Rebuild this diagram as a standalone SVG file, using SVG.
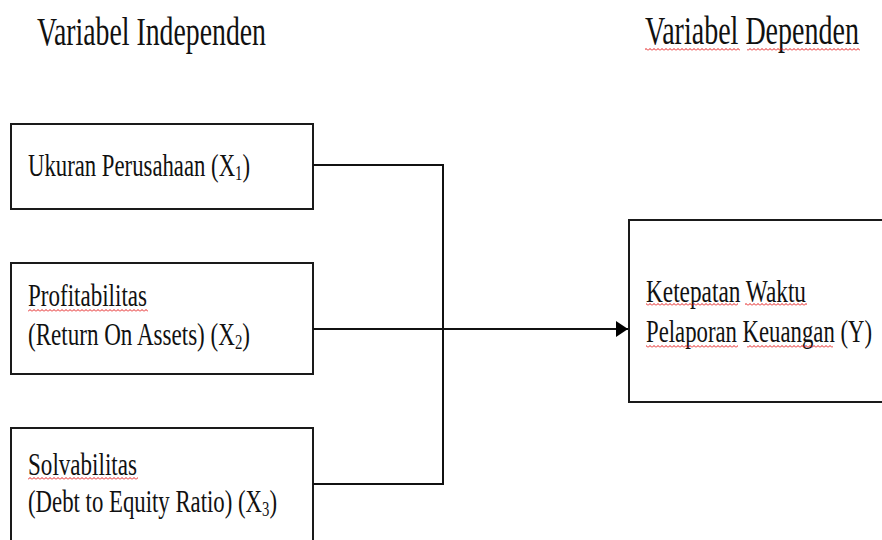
<svg xmlns="http://www.w3.org/2000/svg" width="882" height="540" viewBox="0 0 882 540">
<style>
.box{fill:#fff;stroke:#1a1a1a;stroke-width:2}
.t{font-family:"Liberation Serif","Times New Roman",serif;fill:#111}
.h{font-size:40px}
.b{font-size:31px}
.sub{font-size:20px}
.conn{fill:none;stroke:#111;stroke-width:2}
.sq{fill:url(#wave)}
</style>
<defs>
<pattern id="wave" width="4" height="3" patternUnits="userSpaceOnUse">
<path d="M0 2.5 L2 0.5 L4 2.5" fill="none" stroke="#e00000" stroke-width="0.9"/>
</pattern>
<marker id="arr" markerWidth="12" markerHeight="16" refX="12" refY="8" orient="auto" markerUnits="userSpaceOnUse">
<path d="M0 0 L12 8 L0 16 Z" fill="#000"/>
</marker>
</defs>
<rect width="882" height="540" fill="#fff"/>

<g id="title-independen">
<text class="t h" x="37" y="45" textLength="229" lengthAdjust="spacingAndGlyphs">Variabel Independen</text>
</g>
<g id="title-dependen">
<text class="t h" x="645" y="44" textLength="214" lengthAdjust="spacingAndGlyphs">Variabel Dependen</text>
<rect class="sq" x="645" y="48" width="95" height="3"/>
<rect class="sq" x="747" y="48" width="113" height="3"/>
</g>

<g id="x1">
<rect class="box" x="11" y="124" width="302" height="85"/>
<text class="t b" x="28" y="176" textLength="222" lengthAdjust="spacingAndGlyphs">Ukuran Perusahaan (X<tspan class="sub" dy="4">1</tspan><tspan dy="-4">)</tspan></text>
</g>

<g id="x2">
<rect class="box" x="11" y="263" width="302" height="111"/>
<text class="t b" x="28" y="306" textLength="119" lengthAdjust="spacingAndGlyphs">Profitabilitas</text>
<rect class="sq" x="28" y="309" width="120" height="3"/>
<text class="t b" x="28" y="345" textLength="222" lengthAdjust="spacingAndGlyphs">(Return On Assets) (X<tspan class="sub" dy="4">2</tspan><tspan dy="-4">)</tspan></text>
</g>

<g id="x3">
<rect class="box" x="11" y="428" width="302" height="130"/>
<text class="t b" x="28" y="475" textLength="109" lengthAdjust="spacingAndGlyphs">Solvabilitas</text>
<rect class="sq" x="28" y="477" width="110" height="3"/>
<text class="t b" x="28" y="512" textLength="249" lengthAdjust="spacingAndGlyphs">(Debt to Equity Ratio) (X<tspan class="sub" dy="4">3</tspan><tspan dy="-4">)</tspan></text>
</g>

<g id="y">
<rect class="box" x="629" y="220" width="270" height="182"/>
<text class="t b" x="646" y="302" textLength="160" lengthAdjust="spacingAndGlyphs">Ketepatan Waktu</text>
<rect class="sq" x="646" y="303" width="92" height="3"/>
<rect class="sq" x="745" y="303" width="62" height="3"/>
<text class="t b" x="646" y="342" textLength="226" lengthAdjust="spacingAndGlyphs">Pelaporan Keuangan (Y)</text>
<rect class="sq" x="646" y="345" width="92" height="3"/>
<rect class="sq" x="747" y="345" width="86" height="3"/>
</g>

<g id="connectors">
<path class="conn" d="M313 165 H443 V484 H313"/>
<path class="conn" d="M313 329 H628" marker-end="url(#arr)"/>
</g>
</svg>
